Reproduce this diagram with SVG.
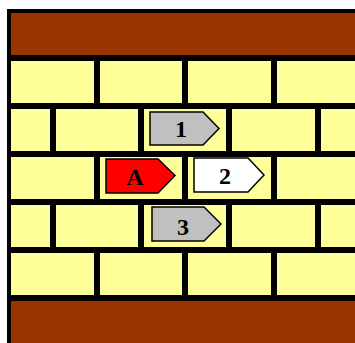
<svg xmlns="http://www.w3.org/2000/svg" width="355" height="343" viewBox="0 0 355 343">
<style>
.brick{fill:#FFFF99}
.mortar{fill:#993300}
.tag{stroke:#000;stroke-width:1.5;stroke-linejoin:miter}
.lbl{font-family:"Liberation Serif","Times New Roman",serif;font-weight:bold;font-size:24px;fill:#000;text-anchor:middle}
</style>
<rect width="355" height="343" fill="#fff"/>
<g id="wall">
<rect x="7" y="9" width="360" height="340" fill="#000"/>
<rect class="mortar" x="11" y="13" width="350" height="42"/>
<rect class="mortar" x="11" y="301" width="350" height="50"/>
<g id="row1">
<rect class="brick" x="11" y="61" width="83" height="42"/>
<rect class="brick" x="100" y="61" width="82" height="42"/>
<rect class="brick" x="188" y="61" width="83" height="42"/>
<rect class="brick" x="277" y="61" width="90" height="42"/>
</g>
<g id="row2">
<rect class="brick" x="11" y="109" width="39" height="42"/>
<rect class="brick" x="56" y="109" width="82" height="42"/>
<rect class="brick" x="144" y="109" width="82" height="42"/>
<rect class="brick" x="232" y="109" width="83" height="42"/>
<rect class="brick" x="321" y="109" width="46" height="42"/>
</g>
<g id="row3">
<rect class="brick" x="11" y="157" width="83" height="42"/>
<rect class="brick" x="100" y="157" width="82" height="42"/>
<rect class="brick" x="188" y="157" width="83" height="42"/>
<rect class="brick" x="277" y="157" width="90" height="42"/>
</g>
<g id="row4">
<rect class="brick" x="11" y="205" width="39" height="42"/>
<rect class="brick" x="56" y="205" width="82" height="42"/>
<rect class="brick" x="144" y="205" width="82" height="42"/>
<rect class="brick" x="232" y="205" width="83" height="42"/>
<rect class="brick" x="321" y="205" width="46" height="42"/>
</g>
<g id="row5">
<rect class="brick" x="11" y="253" width="83" height="42"/>
<rect class="brick" x="100" y="253" width="82" height="42"/>
<rect class="brick" x="188" y="253" width="83" height="42"/>
<rect class="brick" x="277" y="253" width="90" height="42"/>
</g>
</g>
<g id="connectors"></g>
<g id="node-1">
<polygon class="tag" fill="#C0C0C0" points="150,112 203,112 219,128.5 203,145 150,145"/>
<text class="lbl" x="181" y="137">1</text>
</g>
<g id="node-A">
<polygon class="tag" fill="#FF0000" points="106,159 158,159 175,175.5 158,193 106,193"/>
<text class="lbl" x="135" y="185">A</text>
</g>
<g id="node-2">
<polygon class="tag" fill="#FFFFFF" points="194,158 248,158 264,175 248,192 194,192"/>
<text class="lbl" x="225" y="184">2</text>
</g>
<g id="node-3">
<polygon class="tag" fill="#C0C0C0" points="152,207 204,207 221,224 204,241 152,241"/>
<text class="lbl" x="183" y="235">3</text>
</g>
</svg>
